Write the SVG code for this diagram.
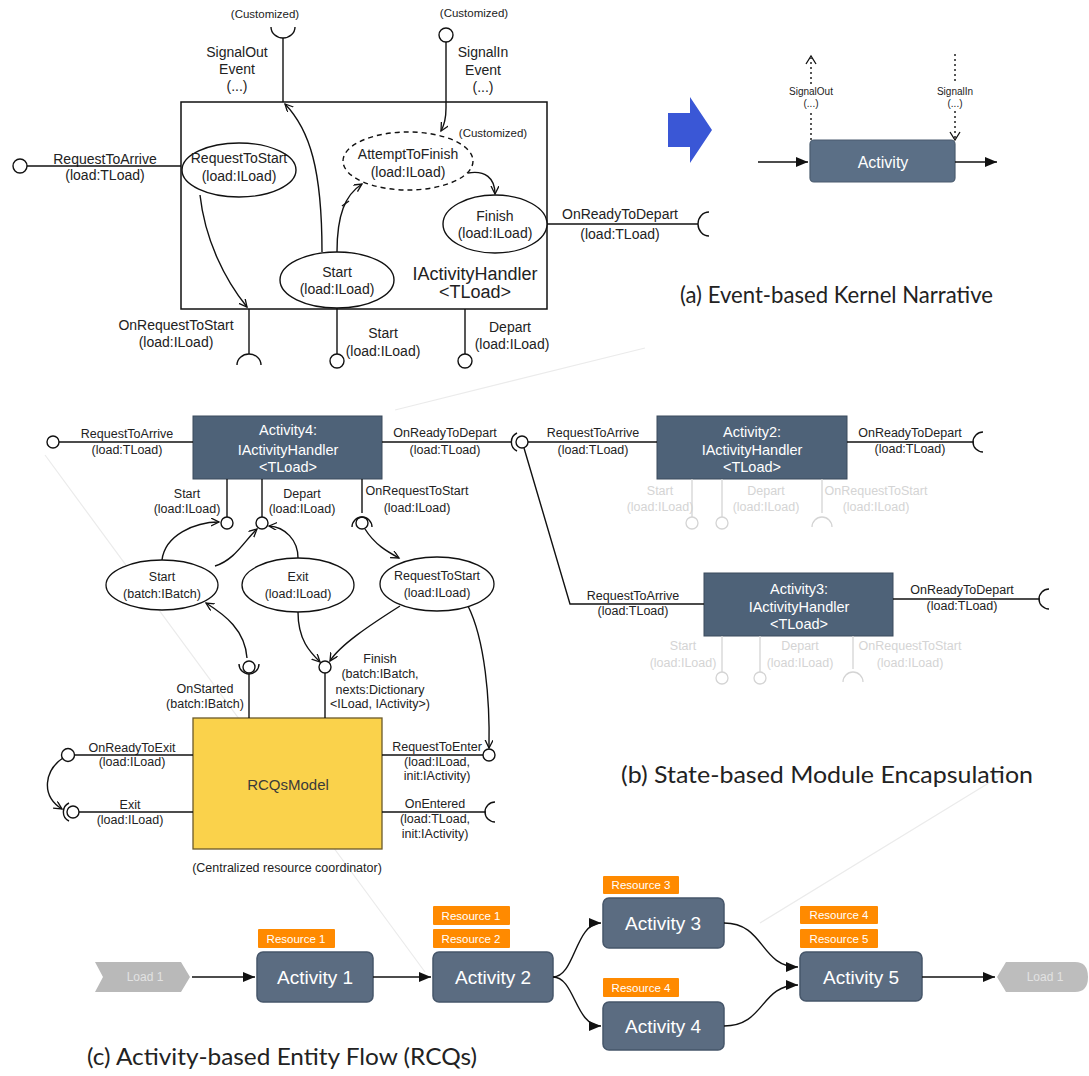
<svg xmlns="http://www.w3.org/2000/svg" width="1089" height="1076" viewBox="0 0 1089 1076">
<defs>
<style>
.t{font-family:"Liberation Sans",Arial,sans-serif;fill:#222;text-anchor:middle}
.a{font-size:14px}
.s{font-size:11.5px}
.b{font-size:12.5px}
.w{fill:#fff}
.fd{fill:#d4d4d4}
.ln{stroke:#111;stroke-width:1.4;fill:none}
.fl{stroke:#d4d4d4;stroke-width:1.3;fill:none}
.ball{fill:#fff;stroke:#111;stroke-width:1.4}
.fball{fill:#fff;stroke:#d4d4d4;stroke-width:1.3}
.box{fill:#4e6278;stroke:#3a4a5c;stroke-width:1}
.act{fill:#5b6c81;stroke:#46566a;stroke-width:1.5}
.res{fill:#ff8a00}
.rt{font-family:"Liberation Sans",Arial,sans-serif;font-size:11.5px;fill:#fff;text-anchor:middle}
.at{font-family:"Liberation Sans",Arial,sans-serif;font-size:19px;fill:#fff;text-anchor:middle}
.title{font-family:Lato,"Open Sans",sans-serif;font-size:24px;fill:#222}
.faint{stroke:#ebebeb;stroke-width:1.2;fill:none}
</style>
<marker id="v" markerWidth="10" markerHeight="10" refX="8" refY="4" orient="auto" markerUnits="userSpaceOnUse"><path d="M0,0 L8,4 L0,8" fill="none" stroke="#111" stroke-width="1.3"/></marker>
<marker id="f" markerWidth="14" markerHeight="12" refX="12" refY="5" orient="auto" markerUnits="userSpaceOnUse"><path d="M0,0 L12,5 L0,10 z" fill="#111"/></marker>
</defs>
<rect width="1089" height="1076" fill="#fff"/>

<!-- faint decorative lines -->
<g id="faint">
<path class="faint" d="M395,410 L645,348"/>
<path class="faint" d="M45,455 L425,972"/>
<path class="faint" d="M760,923 L1010,770"/>
</g>

<!-- ===== (a) ===== -->
<g id="handlerBox">
<rect x="181" y="102" width="366" height="207" fill="#fff" stroke="#111" stroke-width="1.5"/>
<text class="t" x="475" y="280" font-size="18">IActivityHandler</text>
<text class="t" x="475" y="298" font-size="18">&lt;TLoad&gt;</text>
</g>
<g id="a_RequestToStart">
<ellipse cx="239" cy="170" rx="57" ry="27" fill="#fff" stroke="#111" stroke-width="1.4"/>
<text class="t a" x="239" y="163">RequestToStart</text>
<text class="t a" x="239" y="181">(load:ILoad)</text>
</g>
<g id="a_AttemptToFinish">
<ellipse cx="408" cy="161" rx="65" ry="29" fill="#fff" stroke="#111" stroke-width="1.4" stroke-dasharray="5,4"/>
<text class="t a" x="408" y="159">AttemptToFinish</text>
<text class="t a" x="408" y="177">(load:ILoad)</text>
<text class="t s" x="493" y="137">(Customized)</text>
</g>
<g id="a_Finish">
<ellipse cx="495" cy="224" rx="52" ry="29" fill="#fff" stroke="#111" stroke-width="1.4"/>
<text class="t a" x="495" y="221">Finish</text>
<text class="t a" x="495" y="238">(load:ILoad)</text>
</g>
<g id="a_Start">
<ellipse cx="337" cy="280" rx="57" ry="28" fill="#fff" stroke="#111" stroke-width="1.4"/>
<text class="t a" x="337" y="277">Start</text>
<text class="t a" x="337" y="294">(load:ILoad)</text>
</g>
<g id="a_ports">
<path class="ln" d="M271,27 A12,11 0 0 0 295,27"/>
<text class="t s" x="265" y="18">(Customized)</text>
<text class="t a" x="237" y="57">SignalOut</text>
<text class="t a" x="237" y="74">Event</text>
<text class="t a" x="237" y="91">(...)</text>
<circle class="ball" cx="446" cy="35" r="7"/>
<text class="t s" x="474" y="17">(Customized)</text>
<text class="t a" x="483" y="57">SignalIn</text>
<text class="t a" x="483" y="75">Event</text>
<text class="t a" x="483" y="92">(...)</text>
<circle class="ball" cx="20" cy="166" r="7"/>
<text class="t a" x="105" y="164">RequestToArrive</text>
<text class="t a" x="105" y="180">(load:TLoad)</text>
<path class="ln" d="M237,365 A12,11 0 0 1 261,365"/>
<text class="t a" x="176" y="330">OnRequestToStart</text>
<text class="t a" x="176" y="347">(load:ILoad)</text>
<circle class="ball" cx="337" cy="361" r="7"/>
<text class="t a" x="383" y="338">Start</text>
<text class="t a" x="383" y="356">(load:ILoad)</text>
<circle class="ball" cx="465" cy="361" r="7"/>
<text class="t a" x="510" y="332">Depart</text>
<text class="t a" x="512" y="349">(load:ILoad)</text>
<path class="ln" d="M709,212 A11,12 0 0 0 709,236"/>
<text class="t a" x="620" y="219">OnReadyToDepart</text>
<text class="t a" x="620" y="239">(load:TLoad)</text>
</g>
<g id="a_connectors">
<path class="ln" d="M283,38 L283,102"/>
<path class="ln" d="M446,42 L446,108 Q446,122 441,131" marker-end="url(#v)"/>
<path class="ln" d="M27,166 L181,166"/>
<path class="ln" d="M249,309 L249,354"/>
<path class="ln" d="M337,308 L337,354"/>
<path class="ln" d="M465,309 L465,354"/>
<path class="ln" d="M547,224 L698,224"/>
<path class="ln" d="M200,195 C205,240 225,280 247,307" marker-end="url(#v)"/>
<path class="ln" d="M322,252 C322,170 310,130 285,104" marker-end="url(#v)"/>
<path class="ln" d="M337,252 C337,215 345,195 362,184" marker-end="url(#v)"/>
<path class="ln" d="M342,206 L349,201"/>
<path class="ln" d="M468,173 C485,170 495,178 495,194" marker-end="url(#v)"/>
</g>

<g id="blueArrow">
<polygon points="668,113 690,113 690,97 712,130 690,163 690,147 668,147" fill="#3a57d6"/>
</g>
<g id="a_Activity">
<rect x="810" y="140" width="145" height="42" rx="4" fill="#5b6f86" stroke="#4a5b6e" stroke-width="1.2"/>
<text class="t" x="883" y="168" font-size="16" style="fill:#fff">Activity</text>
<text class="t" x="811" y="95" font-size="10">SignalOut</text>
<text class="t" x="811" y="107" font-size="10">(...)</text>
<text class="t" x="955" y="95" font-size="10">SignalIn</text>
<text class="t" x="955" y="107" font-size="10">(...)</text>
</g>
<g id="a_Activity_connectors">
<path class="ln" d="M758,162 L808,162" marker-end="url(#f)"/>
<path class="ln" d="M955,162 L997,162" marker-end="url(#f)"/>
<path d="M811,140 L811,111 M811,84 L811,58" stroke="#111" stroke-width="1.4" stroke-dasharray="2,3" fill="none"/>
<path d="M806,64 L811,56 L816,64" stroke="#111" stroke-width="1.3" fill="none"/>
<path d="M955,54 L955,84 M955,111 L955,138" stroke="#111" stroke-width="1.4" stroke-dasharray="2,3" fill="none"/>
<path d="M950,132 L955,140 L960,132" stroke="#111" stroke-width="1.3" fill="none"/>
</g>
<text class="title" x="680" y="303" textLength="313" lengthAdjust="spacingAndGlyphs">(a) Event-based Kernel Narrative</text>

<!-- ===== (b) ===== -->
<g id="Activity4">
<rect class="box" x="193" y="416" width="189" height="63"/>
<text class="t w" x="288" y="435" font-size="14.5">Activity4:</text>
<text class="t w" x="288" y="455" font-size="14.5">IActivityHandler</text>
<text class="t w" x="288" y="472" font-size="14.5">&lt;TLoad&gt;</text>
</g>
<g id="Activity2">
<rect class="box" x="657" y="416" width="190" height="63"/>
<text class="t w" x="752" y="437" font-size="14.5">Activity2:</text>
<text class="t w" x="752" y="455" font-size="14.5">IActivityHandler</text>
<text class="t w" x="752" y="472" font-size="14.5">&lt;TLoad&gt;</text>
</g>
<g id="Activity3">
<rect class="box" x="704" y="573" width="189" height="63"/>
<text class="t w" x="799" y="594" font-size="14.5">Activity3:</text>
<text class="t w" x="799" y="612" font-size="14.5">IActivityHandler</text>
<text class="t w" x="799" y="629" font-size="14.5">&lt;TLoad&gt;</text>
</g>
<g id="b_StartBatch">
<ellipse cx="162" cy="585" rx="56" ry="25" fill="#fff" stroke="#111" stroke-width="1.3"/>
<text class="t b" x="162" y="581">Start</text>
<text class="t b" x="162" y="598">(batch:IBatch)</text>
</g>
<g id="b_Exit">
<ellipse cx="298" cy="585" rx="56" ry="27" fill="#fff" stroke="#111" stroke-width="1.3"/>
<text class="t b" x="298" y="581">Exit</text>
<text class="t b" x="298" y="598">(load:ILoad)</text>
</g>
<g id="b_RequestToStart">
<ellipse cx="437" cy="584" rx="57" ry="27" fill="#fff" stroke="#111" stroke-width="1.3"/>
<text class="t b" x="437" y="580">RequestToStart</text>
<text class="t b" x="437" y="597">(load:ILoad)</text>
</g>
<g id="RCQsModel">
<rect x="193" y="718" width="189" height="131" fill="#fad24b" stroke="#6b5a2a" stroke-width="1.3"/>
<text class="t" x="288" y="790" font-size="15" style="fill:#3a3a3a">RCQsModel</text>
<text class="t b" x="287" y="872">(Centralized resource coordinator)</text>
</g>
<g id="b_ports">
<circle class="ball" cx="53" cy="442" r="6"/>
<text class="t b" x="127" y="438">RequestToArrive</text>
<text class="t b" x="127" y="454">(load:TLoad)</text>
<circle class="ball" cx="227" cy="523" r="6"/>
<text class="t b" x="187" y="498">Start</text>
<text class="t b" x="187" y="513">(load:ILoad)</text>
<circle class="ball" cx="262" cy="523" r="6"/>
<text class="t b" x="302" y="498">Depart</text>
<text class="t b" x="302" y="513">(load:ILoad)</text>
<circle class="ball" cx="362" cy="523" r="6"/>
<path class="ln" d="M352,527 A10,10 0 0 1 372,527"/>
<text class="t b" x="417" y="495">OnRequestToStart</text>
<text class="t b" x="417" y="512">(load:ILoad)</text>
<path class="ln" d="M517,433 A10,10 0 0 0 517,451"/>
<circle class="ball" cx="522" cy="442" r="6"/>
<text class="t b" x="445" y="437">OnReadyToDepart</text>
<text class="t b" x="445" y="454">(load:TLoad)</text>
<text class="t b" x="593" y="437">RequestToArrive</text>
<text class="t b" x="593" y="454">(load:TLoad)</text>
<text class="t b" x="633" y="600">RequestToArrive</text>
<text class="t b" x="633" y="615">(load:TLoad)</text>
<path class="ln" d="M983,432 A10,10 0 0 0 983,452"/>
<text class="t b" x="910" y="437">OnReadyToDepart</text>
<text class="t b" x="910" y="453">(load:TLoad)</text>
<path class="ln" d="M1049,589 A10,10 0 0 0 1049,609"/>
<text class="t b" x="962" y="594">OnReadyToDepart</text>
<text class="t b" x="962" y="610">(load:TLoad)</text>
<circle class="ball" cx="249" cy="667" r="6"/>
<path class="ln" d="M239,664 A10,10 0 0 0 259,664"/>
<text class="t b" x="205" y="693">OnStarted</text>
<text class="t b" x="205" y="708">(batch:IBatch)</text>
<circle class="ball" cx="325" cy="667" r="6"/>
<text class="t b" x="380" y="663">Finish</text>
<text class="t b" x="380" y="678">(batch:IBatch,</text>
<text class="t b" x="380" y="694">nexts:Dictionary</text>
<text class="t b" x="380" y="708">&lt;ILoad, IActivity&gt;)</text>
<circle class="ball" cx="68" cy="755" r="6.5"/>
<text class="t b" x="132" y="752">OnReadyToExit</text>
<text class="t b" x="132" y="766">(load:ILoad)</text>
<circle class="ball" cx="73" cy="812" r="6"/>
<path class="ln" d="M69,803 A10,10 0 0 0 69,821"/>
<text class="t b" x="130" y="809">Exit</text>
<text class="t b" x="130" y="824">(load:ILoad)</text>
<circle class="ball" cx="489" cy="755" r="6"/>
<text class="t b" x="437" y="751">RequestToEnter</text>
<text class="t b" x="437" y="766">(load:ILoad,</text>
<text class="t b" x="437" y="780">init:IActivity)</text>
<path class="ln" d="M495,802 A10,10 0 0 0 495,822"/>
<text class="t b" x="435" y="808">OnEntered</text>
<text class="t b" x="435" y="823">(load:TLoad,</text>
<text class="t b" x="435" y="838">init:IActivity)</text>
</g>
<g id="b_faded_ports">
<path class="fl" d="M692,479 L692,517 M722,479 L722,517 M822,479 L822,513"/>
<circle class="fball" cx="692" cy="523" r="6"/>
<circle class="fball" cx="722" cy="523" r="6"/>
<path class="fl" d="M812,527 A10,10 0 0 1 832,527"/>
<text class="t b fd" x="660" y="495">Start</text>
<text class="t b fd" x="660" y="511">(load:ILoad)</text>
<text class="t b fd" x="766" y="495">Depart</text>
<text class="t b fd" x="766" y="511">(load:ILoad)</text>
<text class="t b fd" x="876" y="495">OnRequestToStart</text>
<text class="t b fd" x="876" y="511">(load:ILoad)</text>
<path class="fl" d="M722,636 L722,672 M760,636 L760,672 M853,636 L853,669"/>
<circle class="fball" cx="722" cy="678" r="6"/>
<circle class="fball" cx="760" cy="678" r="6"/>
<path class="fl" d="M843,682 A10,10 0 0 1 863,682"/>
<text class="t b fd" x="683" y="650">Start</text>
<text class="t b fd" x="683" y="667">(load:ILoad)</text>
<text class="t b fd" x="800" y="650">Depart</text>
<text class="t b fd" x="800" y="667">(load:ILoad)</text>
<text class="t b fd" x="910" y="650">OnRequestToStart</text>
<text class="t b fd" x="910" y="667">(load:ILoad)</text>
</g>
<g id="b_connectors">
<path class="ln" d="M59,442 L193,442"/>
<path class="ln" d="M382,442 L511,442"/>
<path class="ln" d="M528,442 L657,442"/>
<path class="ln" d="M524,448 L570,604 L704,604"/>
<path class="ln" d="M847,442 L974,442"/>
<path class="ln" d="M893,599 L1040,599"/>
<path class="ln" d="M227,479 L227,517"/>
<path class="ln" d="M262,479 L262,517"/>
<path class="ln" d="M362,479 L362,513"/>
<path class="ln" d="M249,718 L249,674"/>
<path class="ln" d="M325,718 L325,673"/>
<path class="ln" d="M193,755 L75,755"/>
<path class="ln" d="M193,812 L79,812"/>
<path class="ln" d="M382,755 L483,755"/>
<path class="ln" d="M382,812 L486,812"/>
<path class="ln" d="M162,560 C165,535 195,522 219,522" marker-end="url(#v)"/>
<path class="ln" d="M215,566 C235,560 245,540 257,529" marker-end="url(#v)"/>
<path class="ln" d="M298,558 C298,540 285,527 269,526" marker-end="url(#v)"/>
<path class="ln" d="M365,529 C375,545 388,552 399,558" marker-end="url(#v)"/>
<path class="ln" d="M298,612 C298,640 310,652 320,662" marker-end="url(#v)"/>
<path class="ln" d="M400,606 C370,625 340,645 330,661" marker-end="url(#v)"/>
<path class="ln" d="M468,606 C485,640 490,700 489,748" marker-end="url(#v)"/>
<path class="ln" d="M247,658 C245,630 225,615 206,603" marker-end="url(#v)"/>
<path class="ln" d="M63,758 C45,770 40,795 62,809" marker-end="url(#v)"/>
</g>
<text class="title" x="621" y="783" textLength="412" lengthAdjust="spacingAndGlyphs">(b) State-based Module Encapsulation</text>

<!-- ===== (c) ===== -->
<g id="Load1_in">
<polygon points="95,962 181,962 190,977 181,992 95,992 103,977" fill="#b9b9b9"/>
<text class="t" x="145" y="981" font-size="12" style="fill:#e2e2e2">Load 1</text>
</g>
<g id="Activity1">
<rect class="act" x="257" y="952" width="116" height="50" rx="6"/>
<text class="at" x="315" y="984">Activity 1</text>
<rect class="res" x="258" y="929" width="77" height="19" rx="1"/>
<text class="rt" x="296" y="943">Resource 1</text>
</g>
<g id="Activity2c">
<rect class="act" x="433" y="952" width="120" height="50" rx="6"/>
<text class="at" x="493" y="984">Activity 2</text>
<rect class="res" x="433" y="906" width="77" height="19" rx="1"/>
<text class="rt" x="471" y="920">Resource 1</text>
<rect class="res" x="433" y="929" width="77" height="19" rx="1"/>
<text class="rt" x="471" y="943">Resource 2</text>
</g>
<g id="Activity3c">
<rect class="act" x="603" y="898" width="121" height="50" rx="6"/>
<text class="at" x="663" y="930">Activity 3</text>
<rect class="res" x="603" y="876" width="76" height="18" rx="1"/>
<text class="rt" x="641" y="889">Resource 3</text>
</g>
<g id="Activity4c">
<rect class="act" x="603" y="1002" width="121" height="48" rx="6"/>
<text class="at" x="663" y="1033">Activity 4</text>
<rect class="res" x="603" y="978" width="76" height="19" rx="1"/>
<text class="rt" x="641" y="992">Resource 4</text>
</g>
<g id="Activity5c">
<rect class="act" x="800" y="952" width="122" height="49" rx="6"/>
<text class="at" x="861" y="984">Activity 5</text>
<rect class="res" x="800" y="906" width="78" height="18" rx="1"/>
<text class="rt" x="839" y="919">Resource 4</text>
<rect class="res" x="800" y="929" width="78" height="19" rx="1"/>
<text class="rt" x="839" y="943">Resource 5</text>
</g>
<g id="Load1_out">
<path d="M1006,962 L1075,962 Q1088,962 1088,977 Q1088,992 1075,992 L1006,992 L997,977 Z" fill="#bdbdbd"/>
<text class="t" x="1045" y="981" font-size="12" style="fill:#e2e2e2">Load 1</text>
</g>
<g id="c_connectors">
<path class="ln" d="M192,977 L255,977" stroke-width="1.8" marker-end="url(#f)"/>
<path class="ln" d="M373,977 L431,977" stroke-width="1.8" marker-end="url(#f)"/>
<path class="ln" d="M553,977 C575,977 575,923 601,923" stroke-width="1.5" marker-end="url(#f)"/>
<path class="ln" d="M553,977 C575,977 575,1026 601,1026" stroke-width="1.5" marker-end="url(#f)"/>
<path class="ln" d="M724,923 C765,923 760,967 798,967" stroke-width="1.5" marker-end="url(#f)"/>
<path class="ln" d="M724,1026 C765,1026 760,985 798,985" stroke-width="1.5" marker-end="url(#f)"/>
<path class="ln" d="M922,977 L995,977" stroke-width="1.8" marker-end="url(#f)"/>
</g>
<text class="title" x="87" y="1065" textLength="390" lengthAdjust="spacingAndGlyphs">(c) Activity-based Entity Flow (RCQs)</text>
</svg>
